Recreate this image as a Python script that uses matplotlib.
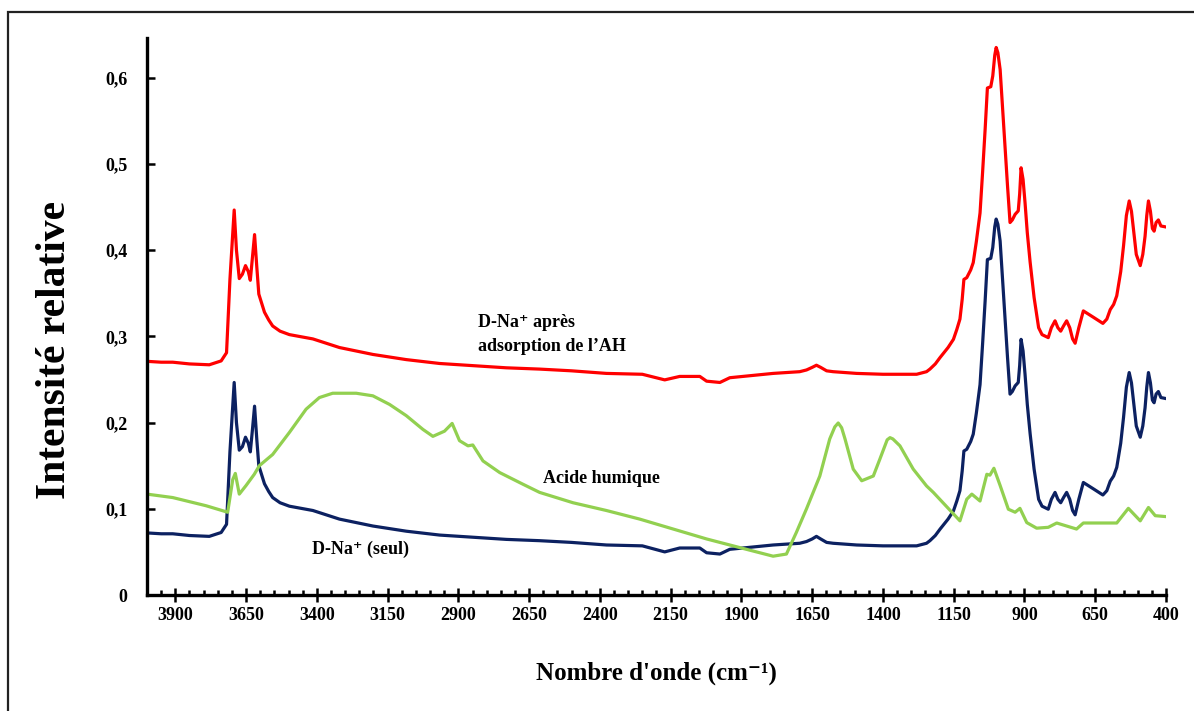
import numpy as np
import matplotlib
matplotlib.use("Agg")
import matplotlib.pyplot as plt
from matplotlib.patches import Rectangle
from matplotlib.ticker import FixedLocator, FuncFormatter

# spectra: wavenumber (cm-1) and relative intensity
wn_dna = [4000, 3950, 3909, 3850, 3780, 3738, 3719, 3707, 3692, 3684,
          3674, 3663, 3652, 3642, 3635, 3628, 3620, 3612, 3605, 3585,
          3570, 3556, 3530, 3497, 3414, 3320, 3202, 3084, 2966, 2849,
          2731, 2613, 2500, 2377, 2250, 2171, 2118, 2047, 2023, 1976,
          1941, 1850, 1788, 1694, 1670, 1650, 1635, 1620, 1599, 1576,
          1493, 1400, 1316, 1281, 1246, 1234, 1215, 1198, 1170, 1151,
          1139, 1128, 1120, 1114, 1104, 1090, 1081, 1070, 1057, 1048,
          1039, 1031, 1019, 1012, 1005, 1000, 994, 986, 978, 969,
          960, 951, 943, 933, 922, 917, 912, 905, 898, 890,
          880, 866, 850, 838, 816, 805, 792, 782, 772, 762,
          751, 740, 730, 721, 708, 692, 675, 656, 623, 609,
          597, 585, 574, 560, 550, 540, 530, 522, 515, 505,
          491, 482, 474, 468, 462, 455, 448, 442, 435, 427,
          418, 403]

dna_ah = [0.271, 0.270, 0.270, 0.268, 0.267, 0.2715, 0.281, 0.366, 0.4465, 0.400,
          0.367, 0.372, 0.382, 0.375, 0.365, 0.390, 0.418, 0.380, 0.349, 0.328,
          0.319, 0.312, 0.306, 0.302, 0.297, 0.287, 0.279, 0.273, 0.2685, 0.266,
          0.2635, 0.262, 0.260, 0.257, 0.256, 0.2495, 0.2535, 0.2535, 0.248, 0.2465,
          0.252, 0.255, 0.257, 0.259, 0.261, 0.264, 0.2665, 0.264, 0.260, 0.259,
          0.257, 0.256, 0.256, 0.256, 0.259, 0.262, 0.268, 0.2755, 0.287, 0.2965,
          0.308, 0.320, 0.343, 0.366, 0.368, 0.377, 0.3855, 0.410, 0.443, 0.490,
          0.540, 0.588, 0.5895, 0.602, 0.626, 0.635, 0.629, 0.6095, 0.568, 0.521,
          0.475, 0.432, 0.435, 0.4415, 0.4455, 0.465, 0.4955, 0.482, 0.455, 0.420,
          0.386, 0.345, 0.310, 0.302, 0.2985, 0.310, 0.318, 0.310, 0.306, 0.312,
          0.318, 0.310, 0.297, 0.292, 0.310, 0.3295, 0.326, 0.322, 0.315, 0.320,
          0.331, 0.337, 0.347, 0.375, 0.405, 0.440, 0.457, 0.445, 0.424, 0.395,
          0.382, 0.395, 0.416, 0.440, 0.457, 0.445, 0.425, 0.422, 0.432, 0.435,
          0.428, 0.427]

dna_seul = [0.072, 0.071, 0.071, 0.069, 0.068, 0.0725, 0.082, 0.166, 0.2465, 0.200,
            0.168, 0.172, 0.183, 0.176, 0.166, 0.190, 0.219, 0.180, 0.150, 0.129,
            0.120, 0.113, 0.107, 0.103, 0.098, 0.088, 0.080, 0.074, 0.0695, 0.067,
            0.0645, 0.063, 0.061, 0.058, 0.057, 0.050, 0.0545, 0.0545, 0.049, 0.0475,
            0.053, 0.056, 0.058, 0.060, 0.062, 0.065, 0.068, 0.065, 0.061, 0.060,
            0.058, 0.057, 0.057, 0.057, 0.060, 0.063, 0.069, 0.0765, 0.088, 0.0975,
            0.109, 0.121, 0.144, 0.167, 0.169, 0.178, 0.1865, 0.211, 0.244, 0.291,
            0.341, 0.389, 0.3905, 0.403, 0.427, 0.436, 0.430, 0.4105, 0.369, 0.322,
            0.276, 0.233, 0.236, 0.2425, 0.2465, 0.266, 0.2965, 0.283, 0.256, 0.221,
            0.187, 0.146, 0.111, 0.103, 0.0995, 0.111, 0.119, 0.111, 0.107, 0.113,
            0.119, 0.111, 0.098, 0.093, 0.111, 0.1305, 0.127, 0.123, 0.116, 0.121,
            0.132, 0.138, 0.148, 0.176, 0.206, 0.241, 0.258, 0.246, 0.225, 0.196,
            0.183, 0.196, 0.217, 0.241, 0.258, 0.246, 0.226, 0.223, 0.233, 0.236,
            0.229, 0.228]

wn_ah = [4000, 3909, 3791, 3715, 3697, 3688, 3674, 3650, 3621, 3603, 3556, 3497, 3438,
         3391, 3344, 3261, 3202, 3143, 3084, 3025, 2990, 2949, 2922, 2896, 2866, 2849,
         2813, 2754, 2672, 2613, 2495, 2377, 2259, 2141, 2023, 1906, 1788, 1741, 1706,
         1670, 1623, 1588, 1570, 1558, 1546, 1534, 1505, 1475, 1434, 1411, 1385, 1375,
         1365, 1340, 1293, 1246, 1222, 1128, 1104, 1086, 1057, 1033, 1022, 1008, 986,
         957, 933, 916, 892, 857, 816, 786, 751, 716, 692, 574, 533, 491, 462, 438, 403]

acide_humique = [0.117, 0.113, 0.1035, 0.096, 0.134, 0.141, 0.117, 0.127, 0.140, 0.150, 0.163, 0.1885, 0.2155,
                 0.229, 0.234, 0.234, 0.231, 0.221, 0.208, 0.192, 0.184, 0.190, 0.199, 0.179, 0.173, 0.174,
                 0.1555, 0.142, 0.1285, 0.119, 0.107, 0.098, 0.088, 0.0765, 0.065, 0.055, 0.045, 0.0475, 0.0725,
                 0.100, 0.138, 0.181, 0.195, 0.1995, 0.194, 0.181, 0.146, 0.1325, 0.138, 0.1575, 0.180, 0.1825,
                 0.181, 0.173, 0.146, 0.1265, 0.119, 0.086, 0.111, 0.117, 0.109, 0.140, 0.139, 0.147, 0.127,
                 0.0995, 0.096, 0.1005, 0.084, 0.0775, 0.0785, 0.0835, 0.080, 0.0765, 0.0835, 0.0835, 0.1005,
                 0.086, 0.1015, 0.092, 0.091]

y_ticks = [0, 0.1, 0.2, 0.3, 0.4, 0.5, 0.6]
x_major = [3900, 3650, 3400, 3150, 2900, 2650, 2400, 2150, 1900, 1650, 1400, 1150, 900, 650, 400]

plt.rcParams['font.family'] = ['Liberation Serif', 'DejaVu Serif']
plt.rcParams['font.weight'] = 'bold'

fig = plt.figure(figsize=(11.94, 7.11), dpi=100)
ax = fig.add_axes([147 / 1194, 1 - 595 / 711, (1166 - 147) / 1194, (595 - 38) / 711])

ax.plot(wn_dna, dna_ah, color='#ff0000', lw=2.3, solid_joinstyle='round')
ax.plot(wn_dna, dna_seul, color='#0c2161', lw=2.3, solid_joinstyle='round')
ax.plot(wn_ah, acide_humique, color='#92d050', lw=2.3, solid_joinstyle='round')

ax.set_xlim(4000, 400)
ax.set_ylim(0, 0.646)

for s in ['top', 'right']:
    ax.spines[s].set_visible(False)
for s in ['left', 'bottom']:
    ax.spines[s].set_linewidth(2.4)

ax.xaxis.set_major_locator(FixedLocator(x_major))
ax.xaxis.set_minor_locator(FixedLocator(np.arange(400, 4001, 50)))
ax.yaxis.set_major_locator(FixedLocator(y_ticks))
ax.yaxis.set_major_formatter(FuncFormatter(lambda v, p: ('%g' % round(v, 2)).replace('.', ',')))

ax.tick_params(axis='x', which='major', direction='inout', length=10, width=1.8, pad=4, labelsize=13)
ax.tick_params(axis='x', which='minor', direction='in', length=3.5, width=1.8)
ax.tick_params(axis='y', which='major', direction='in', length=6, width=1.8, pad=14, labelsize=13)
for lab in ax.get_xticklabels() + ax.get_yticklabels():
    lab.set_fontweight('bold')

ax.set_xlabel("Nombre d'onde (cm\u207b\u00b9)", fontsize=18, fontweight='bold', labelpad=27)
fig.text(55 / 1194, 1 - 350 / 711, 'Intensité relative', rotation=90, fontsize=30,
         fontweight='bold', ha='center', va='center')

ax.text(2832, 0.316, 'D-Na\u207a après', fontsize=13, fontweight='bold', va='center')
ax.text(2832, 0.2885, 'adsorption de l\u2019AH', fontsize=13, fontweight='bold', va='center')
ax.text(2602, 0.1356, 'Acide humique', fontsize=13, fontweight='bold', va='center')
ax.text(3416, 0.0533, 'D-Na\u207a (seul)', fontsize=13, fontweight='bold', va='center')

# frame round the figure, open to the right and bottom like the original
fig.patches.append(Rectangle((8 / 1194, -0.1), 1.5, 1.1 - 12 / 711, transform=fig.transFigure,
                             fill=False, lw=1.6, edgecolor='#222222'))

fig.savefig('out.png', dpi=100)
